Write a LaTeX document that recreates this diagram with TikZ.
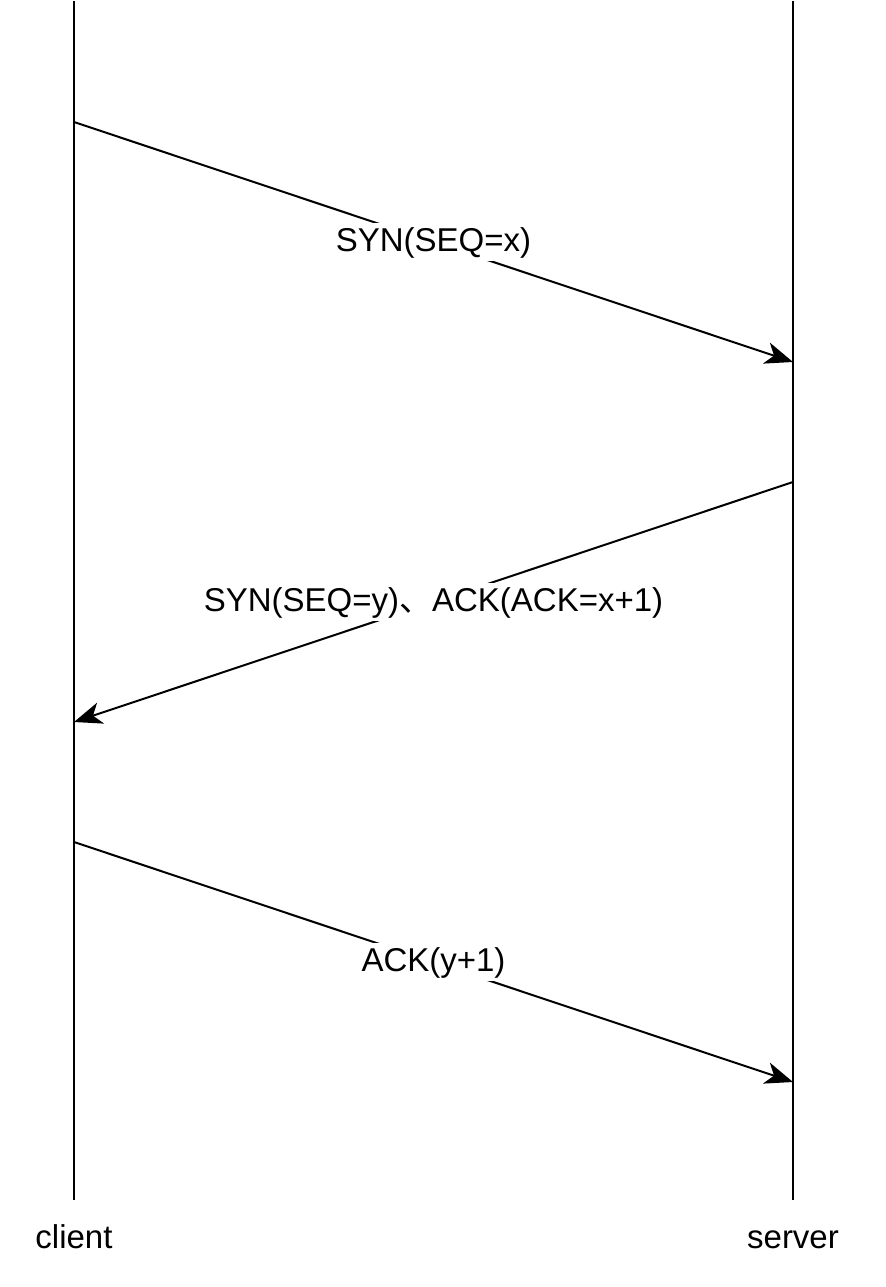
\documentclass[tikz,border=0pt]{standalone}
\usepackage{fontspec}
\setmainfont{Liberation Sans}
\newfontfamily\cjk{Noto Sans CJK SC}
\usetikzlibrary{arrows.meta,positioning,calc}

\tikzset{
  lifeline/.style={line width=1.2pt},
  msg/.style={line width=1pt, -{Stealth[length=14pt,width=11pt,inset=4pt]}},
  msglabel/.style={fill=white, inner sep=1pt, text height=13pt, text depth=4pt, font=\fontsize{16.5}{19}\selectfont},
  actor/.style={text height=12pt, text depth=4pt, font=\fontsize{16.5}{19}\selectfont}
}

\begin{document}
\begin{tikzpicture}[x=0.5pt,y=-0.5pt]
\useasboundingbox (0,0) rectangle (885,1287);
% lifelines
\coordinate (Ctop) at (74,1);
\coordinate (Cbot) at (74,1200);
\coordinate (Stop) at (793,1);
\coordinate (Sbot) at (793,1200);
\draw[lifeline] (Ctop) -- (Cbot);
\draw[lifeline] (Stop) -- (Sbot);
\node[actor] (client) at (74,1240) {client};
\node[actor] (server) at (793,1240) {server};

% message end points
\coordinate (C1) at (74,122);
\coordinate (S1) at (793,362);
\coordinate (S2) at (793,482);
\coordinate (C2) at (74,722);
\coordinate (C3) at (74,842);
\coordinate (S3) at (793,1082);

\draw[msg] (C1) -- node[msglabel] (m1) {SYN(SEQ=x)} (S1);
\draw[msg] (S2) -- node[msglabel] (m2) {SYN(SEQ=y){\cjk 、}ACK(ACK=x+1)} (C2);
\draw[msg] (C3) -- node[msglabel] (m3) {ACK(y+1)} (S3);

\end{tikzpicture}
\end{document}
